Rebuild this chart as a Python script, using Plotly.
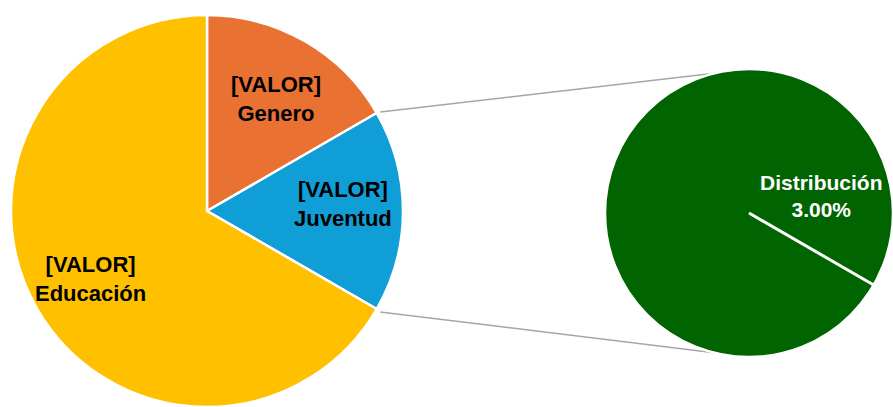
import math
import plotly.graph_objects as go

# ---- data ----
main_labels = ["Genero", "Juventud", "Educación"]
main_values = [1, 1, 4]
main_text = ["[VALOR]", "[VALOR]", "[VALOR]"]
main_colors = ["#E97132", "#0F9ED5", "#FFC000"]

sub_labels = ["Distribución"]
sub_values = [3.00]
sub_colors = ["#006400"]

W, H = 893, 407

# ---- geometry (figure pixels) ----
cx1, cy1, r1 = 207.0, 212.0, 197.0
x0_2 = 605.0
r2 = (W - x0_2) / 2.0
cx2, cy2 = x0_2 + r2, 213.0


def dom(cx, cy, r):
    return dict(x=[max(0, (cx - r) / W), min(1, (cx + r) / W)],
                y=[max(0, (H - cy - r) / H), min(1, (H - cy + r) / H)])


def pt(cx, cy, r, ang):
    # ang: degrees clockwise from 12 o'clock, returns paper coords
    a = math.radians(ang)
    return ((cx + r * math.sin(a)) / W, (H - (cy - r * math.cos(a))) / H)


fig = go.Figure()
fig.add_trace(go.Pie(
    labels=main_labels, values=main_values, sort=False, direction="clockwise",
    rotation=0, domain=dom(cx1, cy1, r1), textinfo="none", hoverinfo="label+value",
    marker=dict(colors=main_colors, line=dict(color="white", width=2.5)),
))
fig.add_trace(go.Pie(
    labels=sub_labels, values=sub_values, sort=False, direction="clockwise",
    rotation=0, domain=dom(cx2, cy2, r2), textinfo="none", hoverinfo="label+value",
    marker=dict(colors=sub_colors, line=dict(color="white", width=2.5)),
))

total = sum(main_values)
angles = []
acc = 0.0
for v in main_values:
    start = acc / total * 360
    acc += v
    end = acc / total * 360
    angles.append((start, end))

label_shift = {"Genero": (2, -3), "Juventud": (2, 8), "Educación": (0, 0)}
annotations = []
for lab, txt, (a0, a1) in zip(main_labels, main_text, angles):
    x, y = pt(cx1, cy1, r1 * 0.68, (a0 + a1) / 2)
    dx, dy = label_shift[lab]
    annotations.append(dict(
        x=x, y=y, xref="paper", yref="paper", showarrow=False,
        xanchor="center", yanchor="middle", xshift=dx, yshift=dy,
        text=f"<b>{txt}<br>{lab}</b>", align="center",
        font=dict(family="Liberation Sans, Arial", size=22, color="black")))

# second pie label
annotations.append(dict(
    x=(cx2 + r2 * 0.50) / W, y=(H - (cy2 - r2 * 0.12)) / H,
    xref="paper", yref="paper", showarrow=False,
    xanchor="center", yanchor="middle",
    text=f"<b>{sub_labels[0]}<br>{sub_values[0]:.2f}%</b>", align="center",
    font=dict(family="Liberation Sans, Arial", size=21, color="white")))

shapes = []
# connector lines from "other" slice edges to second pie
other = angles[1]
p_a = pt(cx1, cy1, r1 + 3, other[0])
p_b = pt(cx1, cy1, r1 + 3, other[1])
q_a = pt(cx2, cy2, r2, -14)
q_b = pt(cx2, cy2, r2, 194)
for p, q in ((p_a, q_a), (p_b, q_b)):
    shapes.append(dict(type="line", xref="paper", yref="paper",
                       x0=p[0], y0=p[1], x1=q[0], y1=q[1],
                       line=dict(color="#A6A6A6", width=1.5), layer="below"))
# radial border line in second pie
c = pt(cx2, cy2, 0, 0)
e = pt(cx2, cy2, r2, 120)
shapes.append(dict(type="line", xref="paper", yref="paper",
                   x0=c[0], y0=c[1], x1=e[0], y1=e[1],
                   line=dict(color="white", width=3)))

fig.update_layout(
    width=W, height=H, margin=dict(l=0, r=0, t=0, b=0),
    paper_bgcolor="white", plot_bgcolor="white", showlegend=False,
    annotations=annotations, shapes=shapes,
)

fig.write_html(
    "out.html",
    config={"displayModeBar": False},
    post_script="document.body.style.margin='0';"
                "document.documentElement.style.overflow='hidden';",
)
